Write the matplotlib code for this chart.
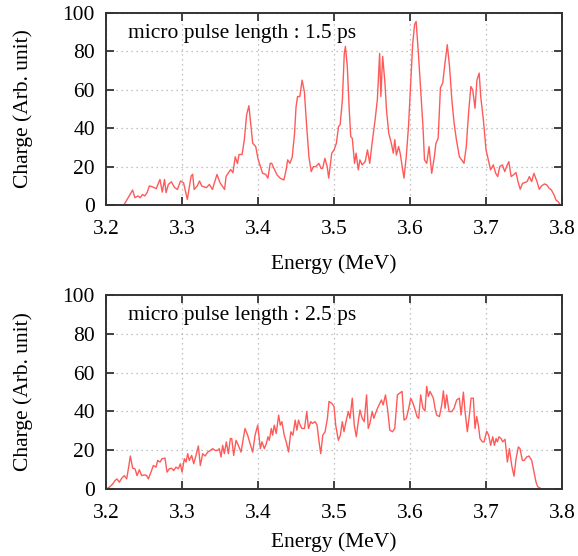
import matplotlib
matplotlib.use('Agg')
import matplotlib.pyplot as plt

# Dados (energia em MeV, carga em unidade arbitraria)
energia_15 = [
    3.224, 3.235, 3.238, 3.242, 3.245, 3.248, 3.251, 3.254, 3.257, 3.261,
    3.266, 3.271, 3.274, 3.277, 3.279, 3.282, 3.286, 3.290, 3.294, 3.298,
    3.302, 3.307, 3.312, 3.314, 3.316, 3.320, 3.323, 3.326, 3.332, 3.336,
    3.340, 3.346, 3.350, 3.356, 3.358, 3.364, 3.367, 3.370, 3.373, 3.375,
    3.379, 3.382, 3.385, 3.388, 3.393, 3.397, 3.400, 3.406, 3.410, 3.413,
    3.416, 3.418, 3.421, 3.425, 3.429, 3.434, 3.437, 3.439, 3.442, 3.445,
    3.448, 3.450, 3.452, 3.455, 3.458, 3.461, 3.464, 3.467, 3.470, 3.473,
    3.476, 3.480, 3.483, 3.485, 3.488, 3.491, 3.493, 3.497, 3.500, 3.503,
    3.506, 3.508, 3.511, 3.5135, 3.515, 3.5175, 3.520, 3.522, 3.524, 3.527,
    3.529, 3.532, 3.534, 3.537, 3.541, 3.544, 3.547, 3.550, 3.554, 3.557,
    3.560, 3.5616, 3.564, 3.567, 3.569, 3.572, 3.5755, 3.578, 3.580, 3.582,
    3.585, 3.587, 3.592, 3.595, 3.598, 3.601, 3.6035, 3.606, 3.608, 3.611,
    3.614, 3.617, 3.619, 3.622, 3.625, 3.6285, 3.632, 3.634, 3.637, 3.640,
    3.643, 3.646, 3.649, 3.652, 3.655, 3.658, 3.661, 3.665, 3.668, 3.671,
    3.674, 3.677, 3.680, 3.6825, 3.6855, 3.688, 3.691, 3.693, 3.6965, 3.700,
    3.703, 3.706, 3.7096, 3.7127, 3.7154, 3.718, 3.7215, 3.7246, 3.727, 3.730,
    3.733, 3.736, 3.7395, 3.742, 3.745, 3.748, 3.751, 3.754, 3.757, 3.760,
    3.763, 3.767, 3.770, 3.773, 3.777, 3.780, 3.783, 3.786, 3.7895, 3.792,
    3.795, 3.797,
]
carga_15 = [
    0.3, 7.8, 3.8, 4.7, 3.8, 5.5, 4.7, 6.4, 9.9, 9.5,
    8.5, 13.3, 6.7, 13.3, 6.4, 10.7, 12.1, 9.2, 8.1, 12.5,
    11.6, 2.9, 15.1, 16.0, 8.1, 9.9, 12.5, 9.9, 9.0, 10.7,
    8.1, 15.9, 11.6, 8.1, 14.9, 18.5, 16.8, 25.1, 21.6, 26.3,
    26.3, 34.0, 47.0, 51.7, 32.2, 30.4, 24.0, 16.5, 16.0, 14.0,
    21.7, 21.7, 19.0, 15.7, 14.0, 13.0, 18.3, 23.5, 21.7, 25.0,
    37.0, 51.0, 56.5, 56.5, 65.0, 59.0, 41.0, 25.0, 17.4, 20.0,
    20.0, 21.7, 19.0, 19.0, 24.3, 20.0, 14.0, 27.0, 28.7, 32.0,
    41.0, 41.7, 54.8, 79.0, 82.6, 72.0, 49.6, 35.6, 34.8, 21.7,
    27.0, 18.3, 23.5, 20.9, 22.6, 28.7, 21.7, 32.0, 44.3, 54.8,
    79.0, 56.5, 77.4, 63.5, 49.6, 37.4, 32.0, 27.0, 34.0, 26.0,
    30.4, 27.0, 14.0, 25.0, 41.0, 65.0, 84.0, 94.0, 95.6, 79.0,
    60.0, 41.0, 23.5, 21.7, 30.4, 16.5, 25.0, 32.0, 34.8, 61.0,
    63.5, 74.0, 83.5, 72.0, 54.8, 42.6, 34.0, 25.0, 23.5, 21.7,
    30.4, 47.8, 61.7, 60.0, 50.4, 65.0, 68.7, 56.5, 44.3, 28.7,
    23.5, 18.3, 20.9, 16.5, 14.8, 20.0, 20.9, 17.4, 20.0, 22.6,
    14.8, 15.7, 16.9, 12.2, 8.2, 11.3, 11.7, 12.2, 14.8, 12.2,
    16.5, 12.2, 8.2, 9.9, 11.0, 10.4, 8.7, 7.8, 5.2, 2.6,
    1.7, 0.5,
]

energia_25 = [
    3.2013, 3.2044, 3.2088, 3.2118, 3.2145, 3.2175, 3.2206, 3.2241, 3.2272, 3.2298,
    3.2320, 3.2351, 3.2382, 3.2408, 3.2439, 3.2469, 3.2504, 3.2535, 3.2557, 3.2592,
    3.2623, 3.2658, 3.2680, 3.2711, 3.2737, 3.2776, 3.2803, 3.2833, 3.2864, 3.2890,
    3.2921, 3.2952, 3.2978, 3.3000, 3.3031, 3.3053, 3.3075, 3.3096, 3.3127, 3.3154,
    3.3184, 3.3215, 3.3241, 3.3272, 3.3303, 3.3338, 3.3373, 3.3404, 3.3434, 3.3469,
    3.3491, 3.3513, 3.3535, 3.3557, 3.3583, 3.3610, 3.3636, 3.3654, 3.3680, 3.3711,
    3.3741, 3.3776, 3.3807, 3.3829, 3.3864, 3.3895, 3.3930, 3.3961, 3.3996, 3.4031,
    3.4052, 3.4083, 3.4109, 3.4131, 3.4148, 3.4175, 3.4192, 3.4214, 3.4240, 3.4271,
    3.4293, 3.4314, 3.4345, 3.4371, 3.4402, 3.4432, 3.4459, 3.4489, 3.4511, 3.4533,
    3.4555, 3.4576, 3.4611, 3.4642, 3.4664, 3.4694, 3.4716, 3.4751, 3.4777, 3.4803,
    3.4825, 3.4852, 3.4882, 3.4913, 3.4934, 3.4969, 3.5000, 3.5022, 3.5057, 3.5083,
    3.5109, 3.5131, 3.5157, 3.5188, 3.5210, 3.5240, 3.5266, 3.5293, 3.5319, 3.5341,
    3.5371, 3.5397, 3.5428, 3.5450, 3.5472, 3.5502, 3.5524, 3.5546, 3.5572, 3.5603,
    3.5624, 3.5646, 3.5677, 3.5703, 3.5734, 3.5769, 3.5799, 3.5834, 3.5865, 3.5895,
    3.5921, 3.5952, 3.5983, 3.6009, 3.6039, 3.6061, 3.6092, 3.6114, 3.6140, 3.6170,
    3.6197, 3.6219, 3.6241, 3.6263, 3.6285, 3.6307, 3.6329, 3.6351, 3.6386, 3.6417,
    3.6439, 3.6461, 3.6482, 3.6513, 3.6548, 3.6579, 3.6614, 3.6649, 3.6671, 3.6702,
    3.6724, 3.6754, 3.6781, 3.6803, 3.6833, 3.6855, 3.6877, 3.6899, 3.6921, 3.6952,
    3.6974, 3.7009, 3.7035, 3.7061, 3.7088, 3.7110, 3.7132, 3.7149, 3.7171, 3.7197,
    3.7219, 3.7250, 3.7281, 3.7307, 3.7338, 3.7368, 3.7395, 3.7425, 3.7447, 3.7478,
    3.7500, 3.7535, 3.7566, 3.7601, 3.7632, 3.7658, 3.7680, 3.7711,
]
carga_25 = [
    0.3, 0.9, 2.6, 4.3, 5.2, 3.5, 5.5, 6.9, 5.2, 11.3,
    17.0, 10.7, 10.4, 6.9, 9.9, 6.9, 7.3, 6.9, 5.2, 8.7,
    12.1, 11.3, 14.7, 13.9, 15.6, 15.9, 8.7, 10.4, 10.7, 9.5,
    11.3, 10.4, 13.0, 8.7, 15.6, 13.9, 18.2, 14.7, 17.3, 13.0,
    17.3, 22.2, 12.1, 18.2, 17.0, 19.0, 19.9, 20.8, 19.9, 19.9,
    20.8, 16.5, 22.5, 18.2, 24.3, 18.2, 26.0, 26.0, 17.3, 25.1,
    22.5, 19.0, 26.0, 31.2, 27.7, 23.4, 19.0, 27.7, 32.9, 20.8,
    24.3, 20.8, 23.4, 26.9, 25.1, 31.2, 27.7, 32.9, 28.6, 38.1,
    32.9, 34.7, 27.7, 24.3, 19.1, 29.5, 27.7, 35.5, 30.3, 35.5,
    32.9, 31.2, 31.2, 39.9, 31.2, 34.7, 33.8, 34.7, 32.9, 24.3,
    18.2, 27.7, 29.5, 36.4, 45.1, 44.2, 42.5, 32.9, 25.1, 27.7,
    34.7, 29.5, 34.7, 39.9, 36.4, 46.8, 32.9, 26.9, 34.7, 40.7,
    36.4, 34.7, 48.5, 31.2, 33.8, 39.9, 36.4, 39.0, 41.6, 44.2,
    45.9, 43.3, 48.5, 41.6, 30.3, 29.5, 31.2, 48.5, 49.4, 50.3,
    35.5, 36.4, 41.6, 46.8, 44.2, 41.6, 37.3, 36.4, 48.5, 41.6,
    40.2, 52.9, 47.7, 50.3, 48.5, 46.8, 41.6, 38.1, 37.3, 43.3,
    50.6, 41.6, 48.5, 39.9, 39.9, 41.6, 45.9, 46.8, 38.1, 49.9,
    39.9, 29.5, 38.1, 46.8, 46.8, 31.2, 37.3, 32.9, 26.0, 24.3,
    24.3, 29.8, 27.7, 22.5, 26.9, 22.5, 26.0, 24.3, 26.9, 26.0,
    24.3, 25.6, 13.9, 20.8, 12.1, 6.6, 15.6, 21.7, 20.8, 14.7,
    14.7, 16.5, 17.0, 14.7, 8.7, 3.5, 1.2, 0.5,
]

rotulos = ['micro pulse length : 1.5 ps', 'micro pulse length : 2.5 ps']

plt.rcParams['font.family'] = ['Liberation Serif', 'DejaVu Serif']
plt.rcParams['font.size'] = 15.5

fig = plt.figure(figsize=(5.78, 5.56), dpi=100)
ax1 = fig.add_axes([0.1834, 0.6313, 0.789, 0.3453])
ax2 = fig.add_axes([0.1834, 0.1205, 0.789, 0.349])


def desenhar(ax, x, y, rotulo, pad_x):
    ax.plot(x, y, color='#ff5a5a', lw=1.0)
    ax.set_xlim(3.2, 3.8)
    ax.set_ylim(0, 100)
    ax.set_xticks([3.2, 3.3, 3.4, 3.5, 3.6, 3.7, 3.8])
    ax.set_yticks([0, 20, 40, 60, 80, 100])
    ax.grid(True, linestyle=(0, (1, 3)), color='#b0b0b0', lw=0.9)
    ax.tick_params(direction='in', top=True, right=True, length=6, width=1.3,
                   colors='#333333', labelcolor='black')
    ax.tick_params(axis='x', pad=10.5)
    ax.tick_params(axis='y', pad=8)
    for s in ax.spines.values():
        s.set_linewidth(1.4)
        s.set_color('#333333')
    ax.set_xlabel('Energy (MeV)', labelpad=pad_x)
    ax.set_ylabel('Charge (Arb. unit)', labelpad=21)
    ax.text(0.048, 0.895, rotulo, transform=ax.transAxes, va='center', ha='left')


desenhar(ax1, energia_15, carga_15, rotulos[0], 11)
desenhar(ax2, energia_25, carga_25, rotulos[1], 7)

fig.savefig('out.png', dpi=100)
